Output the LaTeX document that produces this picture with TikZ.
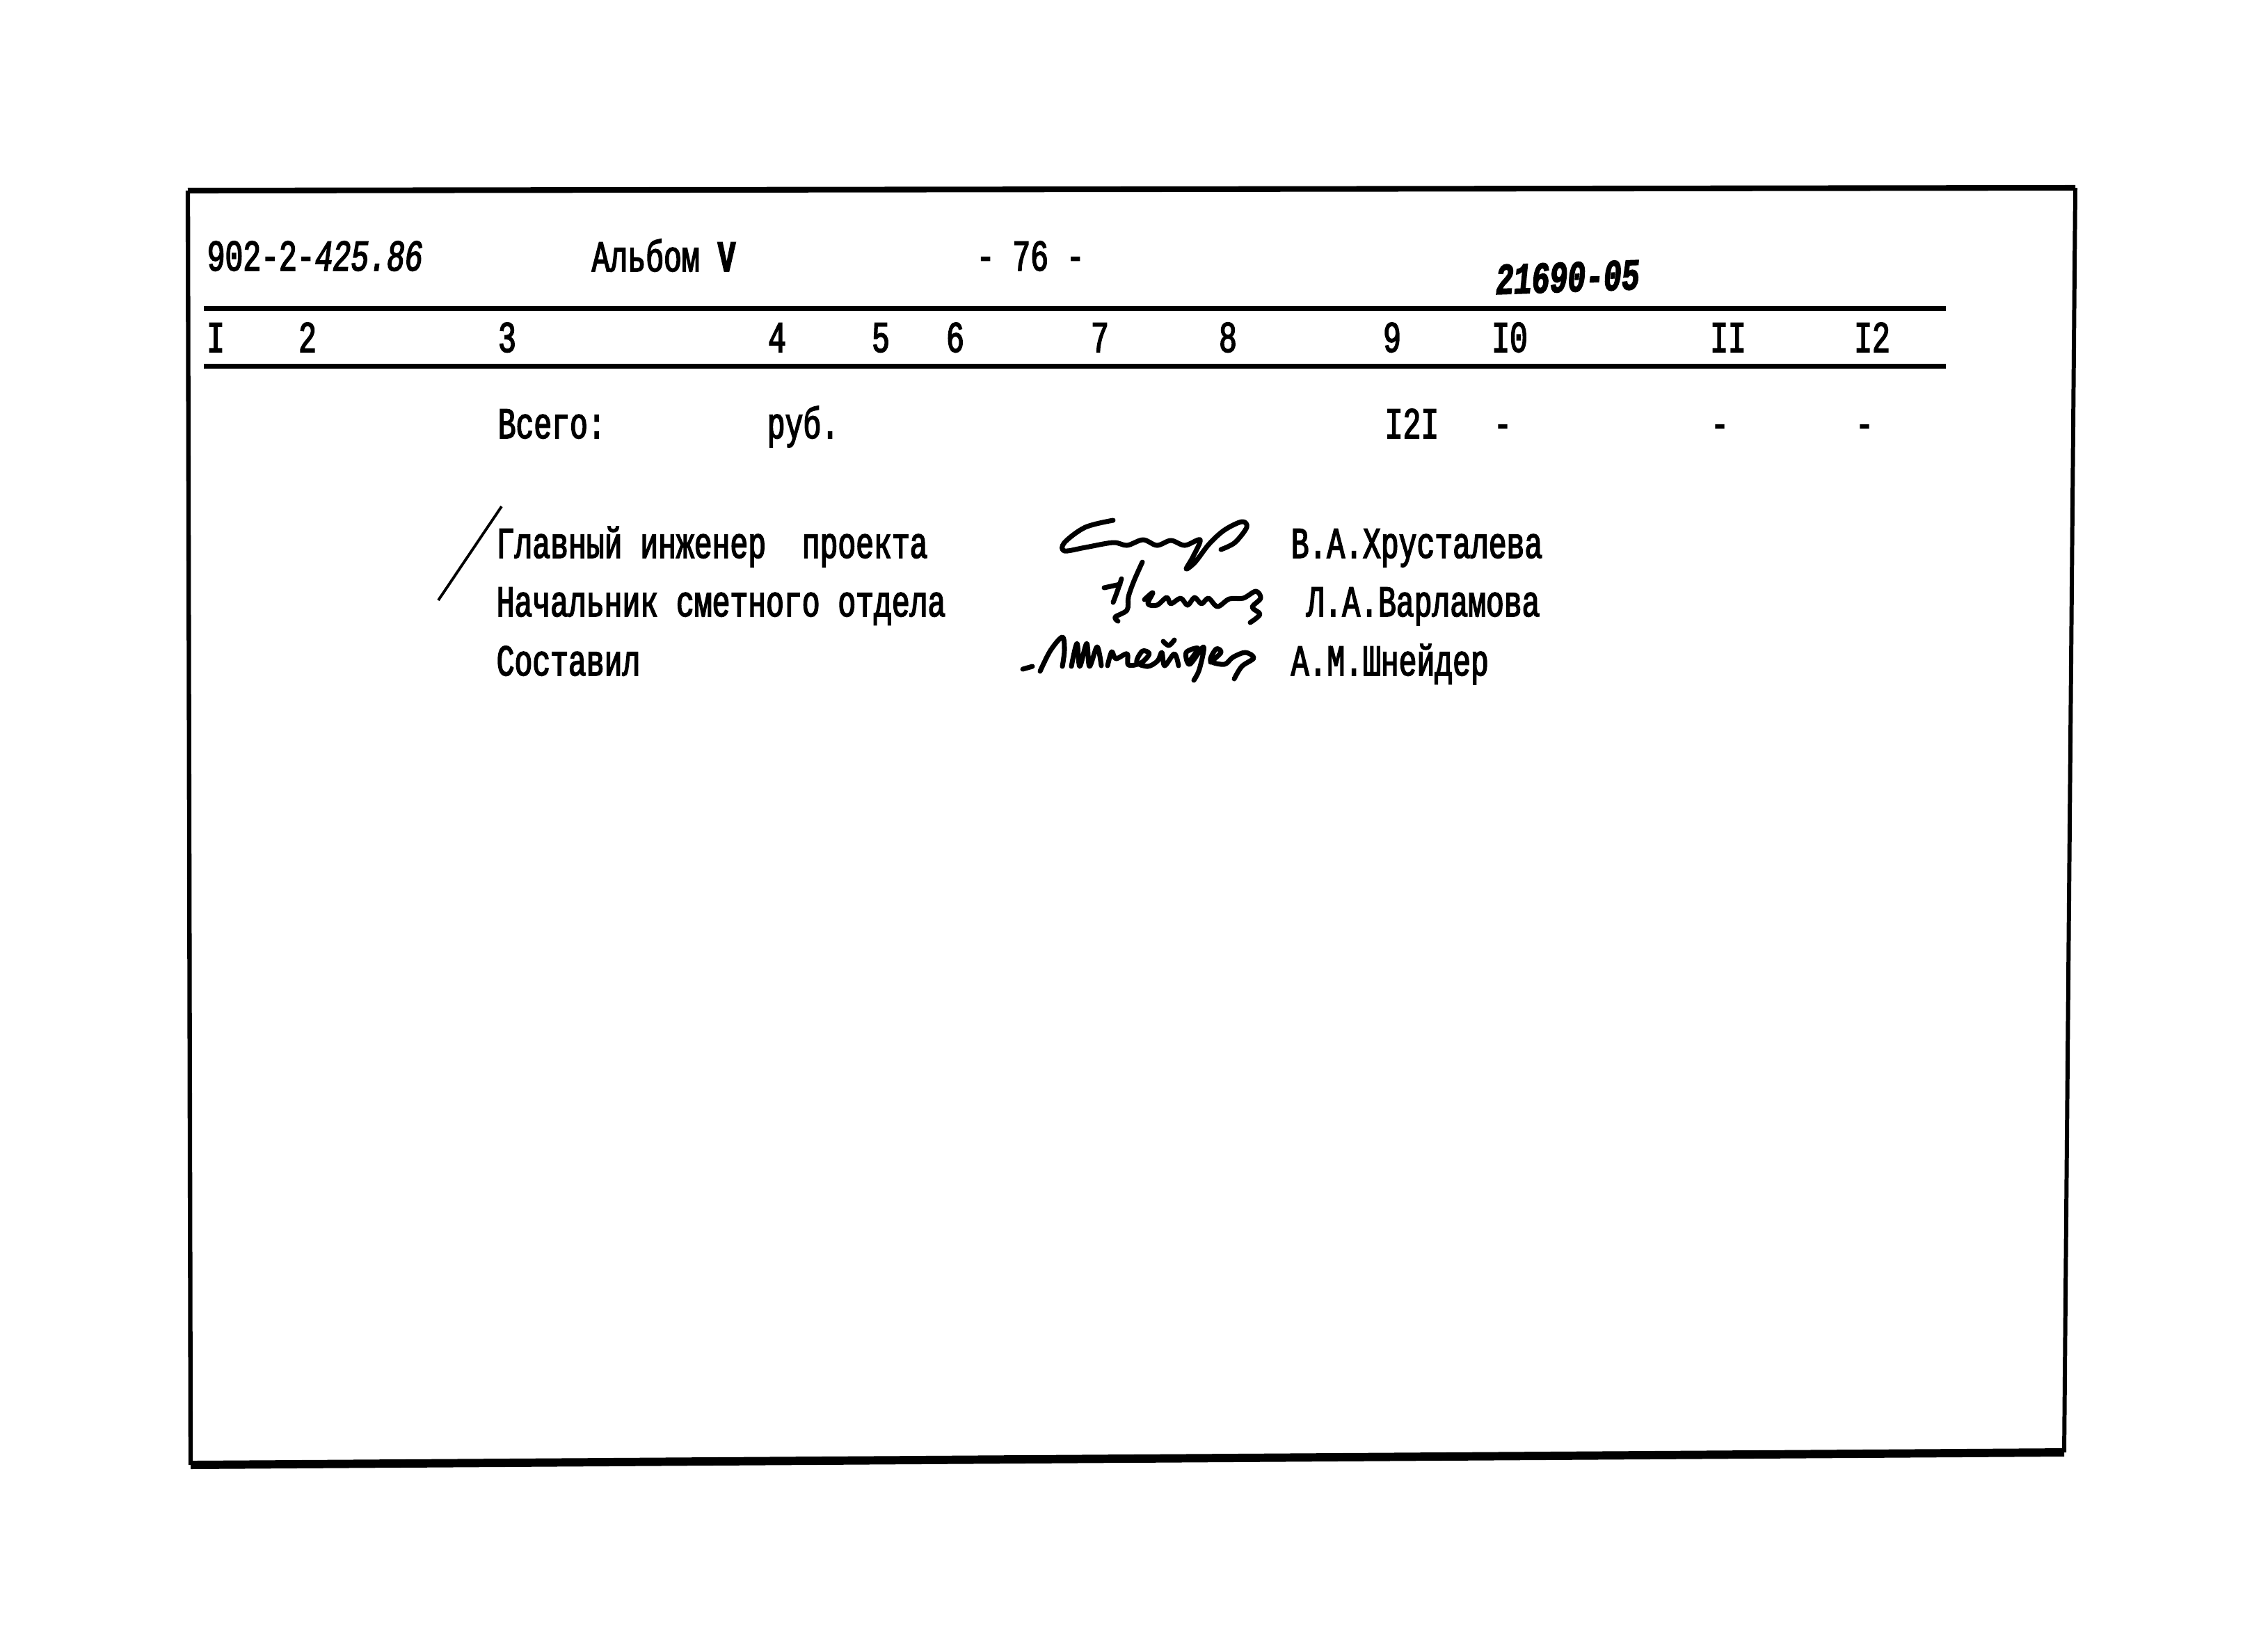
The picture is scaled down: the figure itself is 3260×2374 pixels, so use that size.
\documentclass[tikz,border=0pt]{standalone}
\usepackage{fontspec}
\newfontfamily\typefont[FakeStretch=0.68, FakeBold=2.5]{Liberation Mono}
\tikzset{
    txt/.style={anchor=base west, inner sep=0pt, font={\typefont\fontsize{18}{20}\selectfont}},
    num/.style={anchor=base, inner sep=0pt, font={\typefont\fontsize{18}{20}\selectfont}},
    sig/.style={line width=2pt, line cap=round, line join=round},
}

\begin{document}
\begin{tikzpicture}[x=0.01cm, y=-0.01cm]
        \useasboundingbox (0, 0) rectangle (3260, 2374);

        \coordinate (tl) at (270, 274);
        \coordinate (tr) at (2983, 270);
        \coordinate (br) at (2967, 2088);
        \coordinate (bl) at (274, 2106);
        \draw[line width=2.3pt] (tl) -- (tr);
        \draw[line width=1.7pt] (tr) -- (br);
        \draw[line width=3.4pt] (br) -- (bl);
        \draw[line width=1.8pt] (bl) -- (tl);

        \node (code) at (297, 389)[txt] {902-2-\textit{425.86}};
        \node (album) at (850, 390)[txt] {Альбом \textbf{V}};
        \node (page) at (1403, 389)[txt] {- 76 -};
        \node (sheet) at (2150, 423)[txt, rotate=2] {\textbf{\textit{21690-05}}};

        \coordinate (r1a) at (293, 443);
        \coordinate (r1b) at (2797, 443);
        \coordinate (r2a) at (293, 526);
        \coordinate (r2b) at (2797, 526);
        \draw[line width=2pt] (r1a) -- (r1b);
        \draw[line width=2pt] (r2a) -- (r2b);

        \node (c1) at (310, 506)[num] {I};
        \node (c2) at (442, 506)[num] {2};
        \node (c3) at (729, 506)[num] {3};
        \node (c4) at (1117, 506)[num] {4};
        \node (c5) at (1266, 506)[num] {5};
        \node (c6) at (1373, 506)[num] {6};
        \node (c7) at (1581, 506)[num] {7};
        \node (c8) at (1765, 506)[num] {8};
        \node (c9) at (2001, 506)[num] {9};
        \node (c10) at (2170, 506)[num] {I0};
        \node (c11) at (2484, 506)[num] {II};
        \node (c12) at (2691, 506)[num] {I2};

        \node (total) at (715, 630)[txt] {Всего:};
        \node (rub) at (1102, 630)[txt] {руб.};
        \node (sum) at (1990, 630)[txt] {I2I};
        \node (d10) at (2160, 630)[num] {-};
        \node (d11) at (2472, 630)[num] {-};
        \node (d12) at (2680, 630)[num] {-};

        \coordinate (s1) at (721, 728);
        \coordinate (s2) at (630, 863);
        \draw[line width=1.1pt] (s1) -- (s2);

        \node (chief) at (713, 802)[txt] {Главный инженер\ \ проекта};
        \node (head) at (713, 886)[txt] {Начальник сметного отдела};
        \node (made) at (713, 971)[txt] {Составил};

        \node (n1) at (1855, 802)[txt] {В.А.Хрусталева};
        \node (n2) at (1877, 886)[txt] {Л.А.Варламова};
        \node (n3) at (1855, 971)[txt] {А.М.Шнейдер};

        \draw[sig] plot[smooth, tension=0.55] coordinates {(1600,748) (1560,758) (1530,780) (1530,792) (1560,787) (1600,780) (1620,784) (1643,776) (1663,784) (1683,777) (1703,784) (1725,776) (1715,800) (1705,818) (1718,808) (1738,782) (1760,762) (1785,750) (1792,758) (1775,780) (1755,790)};

        \draw[sig] plot[smooth, tension=0.55] coordinates {(1642,808) (1630,835) (1622,858) (1620,877) (1603,887) (1607,893)};
        \draw[sig] plot[smooth, tension=0.55] coordinates {(1612,832) (1606,850) (1600,866)};
        \draw[sig] (1587,845) -- (1610,840);
        \draw[sig] plot[smooth, tension=0.55] coordinates {(1645,862) (1657,852) (1650,868) (1663,870) (1677,859) (1683,868) (1697,860) (1707,870) (1717,859) (1727,868) (1737,860) (1750,872) (1767,861) (1787,860) (1805,850) (1812,860) (1800,873) (1811,883) (1797,895)};

        \draw[sig] (1470,962) -- (1484,958);
        \draw[sig] plot[smooth, tension=0.55] coordinates {(1495,965) (1510,935) (1527,916) (1530,935) (1527,958)};
        \draw[sig] plot[smooth, tension=0.55] coordinates {(1540,958) (1548,925) (1552,958) (1562,925) (1566,958) (1577,930) (1583,957)};
        \draw[sig] plot[smooth, tension=0.55] coordinates {(1592,957) (1598,937) (1604,947) (1620,940) (1622,956) (1640,953) (1652,940) (1642,936) (1634,952) (1650,958) (1664,950) (1670,938) (1674,957) (1688,940) (1694,957)};
        \draw[sig] plot[smooth, tension=0.55] coordinates {(1672,922) (1680,928) (1688,920)};
        \draw[sig] plot[smooth, tension=0.55] coordinates {(1710,950) (1722,932) (1705,938) (1710,955) (1730,930) (1724,962) (1716,978)};
        \draw[sig] plot[smooth, tension=0.55] coordinates {(1740,952) (1755,938) (1748,933) (1740,950) (1760,955) (1772,945) (1790,938) (1802,946) (1785,958) (1774,976)};
    \end{tikzpicture}
\end{document}
